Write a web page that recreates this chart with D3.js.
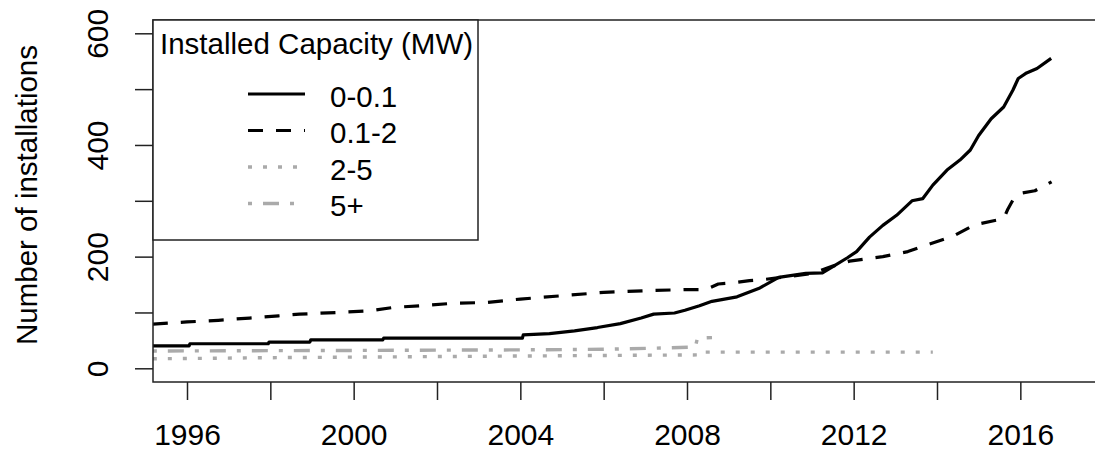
<!DOCTYPE html>
<html>
<head>
<meta charset="utf-8">
<script src="https://cdn.jsdelivr.net/npm/d3@7"></script>
<style>
  body { margin: 0; background: #fff; }
  text { font-family: "Liberation Sans", Arial, sans-serif; fill: #000; }
</style>
</head>
<body>
<svg id="chart" width="1095" height="452"></svg>
<script>
// capacity classes and axis ticks
var classes = ["0-0.1", "0.1-2", "2-5", "5+"];
var xTicks = [1996, 1998, 2000, 2002, 2004, 2006, 2008, 2010, 2012, 2014, 2016];
var xLabels = [1996, 2000, 2004, 2008, 2012, 2016];
var yTicks = [0, 100, 200, 300, 400, 500, 600];
var yLabels = [0, 200, 400, 600];

// cumulative installations, 0-0.1 MW
var yearsA = [1995.18, 1996.05, 1996.07, 1997.95, 1997.97, 1998.95, 1998.97, 2000.7, 2000.72, 2004.05,
              2004.07, 2004.7, 2005.3, 2005.85, 2006.4, 2006.9, 2007.2, 2007.7, 2007.95, 2008.3,
              2008.6, 2009.2, 2009.75, 2010.2, 2010.85, 2011.25, 2011.5, 2011.85, 2012.07, 2012.38,
              2012.7, 2013.03, 2013.4, 2013.66, 2013.9, 2014.24, 2014.55, 2014.8, 2015.0, 2015.3,
              2015.6, 2015.82, 2015.95, 2016.15, 2016.4, 2016.74];
var countA = [40, 40, 44, 44, 47, 47, 51, 51, 54, 54,
              60, 62, 67, 73, 80, 90, 97, 99, 104, 112,
              120, 128, 144, 163, 170, 171, 182, 198, 209, 235,
              256, 274, 300, 304, 328, 355, 373, 391, 417, 447,
              468, 498, 519, 529, 537, 555];

// 0.1-2 MW
var yearsB = [1995.18, 1996.0, 1996.75, 1997.5, 1998.2, 1998.7, 1999.6, 2000.4, 2000.95, 2001.8,
              2002.3, 2003.2, 2004.0, 2005.0, 2006.0, 2007.0, 2008.0, 2008.45, 2008.75, 2009.1,
              2009.5, 2009.85, 2010.5, 2011.0, 2011.5, 2011.9, 2012.7, 2013.3, 2013.8, 2014.4,
              2014.9, 2015.6, 2015.7, 2015.85, 2016.05, 2016.35, 2016.75];
var countB = [79, 83, 86, 90, 94, 97, 100, 103, 109, 113,
              116, 118, 124, 130, 136, 139, 141, 141, 151, 153,
              157, 159, 165, 170, 183, 192, 200, 209, 222, 237,
              257, 268, 285, 305, 314, 318, 334];

// 2-5 MW
var yearsC = [1995.18, 1998, 2002, 2006, 2008.25, 2008.27, 2013.9];
var countC = [17, 19, 21, 23, 24, 29, 29];

// 5+ MW
var yearsD = [1995.18, 2000, 2004, 2006, 2007.2, 2008.2, 2008.25, 2008.6];
var countD = [31, 32, 33, 34, 36, 38, 54, 55];

var seriesYears = [yearsA, yearsB, yearsC, yearsD];
var seriesCounts = [countA, countB, countC, countD];
var colors = ["#000", "#000", "#aaa", "#aaa"];
var dashes = [null, "15,13", "4,11", "4,11,16,11"];

var svg = d3.select("#chart");

var plotLeft = 153, plotRight = 1102, plotTop = 20, plotBottom = 382;

var x = d3.scaleLinear().domain([1995.184, 2017.96]).range([plotLeft, plotRight]);
var y = d3.scaleLinear().domain([0, 600]).range([368.3, 33.3]);

svg.append("clipPath").attr("id", "plotclip")
   .append("rect")
   .attr("x", plotLeft).attr("y", plotTop)
   .attr("width", plotRight - plotLeft).attr("height", plotBottom - plotTop);

var line = d3.line()
   .x(d => x(d[0]))
   .y(d => y(d[1]));

var plot = svg.append("g").attr("clip-path", "url(#plotclip)");

// grey ones first so the black lines sit on top
[3, 2, 1, 0].forEach(function(i) {
  var pts = seriesYears[i].map((yr, j) => [yr, seriesCounts[i][j]]);
  plot.append("path")
      .datum(pts)
      .attr("d", line)
      .attr("fill", "none")
      .attr("stroke", colors[i])
      .attr("stroke-width", i < 2 ? 3.2 : 3.4)
      .attr("stroke-dasharray", dashes[i])
      .attr("stroke-linejoin", "round");
});

// x axis
var xAxis = d3.axisBottom(x)
   .tickValues(xTicks)
   .tickSize(18)
   .tickFormat(d => xLabels.indexOf(d) >= 0 ? d : "");
var gx = svg.append("g").attr("transform", "translate(0," + plotBottom + ")").call(xAxis);
gx.select(".domain").remove();
gx.selectAll(".tick line").attr("stroke", "#222").attr("stroke-width", 1.5);
gx.selectAll(".tick text")
  .attr("y", 63).attr("dy", 0)
  .attr("font-size", 30)
  .attr("font-family", "Liberation Sans, Arial, sans-serif")
  .attr("fill", "#000");

// y axis
var yAxis = d3.axisLeft(y)
   .tickValues(yTicks)
   .tickSize(18)
   .tickFormat(d => yLabels.indexOf(d) >= 0 ? d : "");
var gy = svg.append("g").attr("transform", "translate(" + plotLeft + ",0)").call(yAxis);
gy.select(".domain").remove();
gy.selectAll(".tick line").attr("stroke", "#222").attr("stroke-width", 1.5);
gy.selectAll(".tick text")
  .attr("x", 0).attr("dy", 0)
  .attr("transform", "translate(-45,0) rotate(-90)")
  .attr("text-anchor", "middle")
  .attr("font-size", 30)
  .attr("font-family", "Liberation Sans, Arial, sans-serif")
  .attr("fill", "#000");

// plot box
svg.append("rect")
   .attr("x", plotLeft).attr("y", plotTop)
   .attr("width", plotRight - plotLeft).attr("height", plotBottom - plotTop)
   .attr("fill", "none")
   .attr("stroke", "#222")
   .attr("stroke-width", 1.5);

// y title
svg.append("text")
   .attr("transform", "translate(37,195) rotate(-90)")
   .attr("text-anchor", "middle")
   .attr("font-size", 29.5)
   .text("Number of installations");

// legend
var lg = svg.append("g");
lg.append("rect")
  .attr("x", plotLeft).attr("y", plotTop)
  .attr("width", 325).attr("height", 220)
  .attr("fill", "#fff")
  .attr("stroke", "#222")
  .attr("stroke-width", 1.5);
lg.append("text")
  .attr("x", 160).attr("y", 54)
  .attr("font-size", 29.5)
  .text("Installed Capacity (MW)");

classes.forEach(function(c, i) {
  var ly = 94 + i * 36.5;
  lg.append("line")
    .attr("x1", 248).attr("x2", 305)
    .attr("y1", ly).attr("y2", ly)
    .attr("stroke", colors[i])
    .attr("stroke-width", i < 2 ? 3.2 : 3.4)
    .attr("stroke-dasharray", dashes[i]);
  lg.append("text")
    .attr("x", 330).attr("y", ly + 12.5)
    .attr("font-size", 29.5)
    .text(c);
});
</script>
</body>
</html>
